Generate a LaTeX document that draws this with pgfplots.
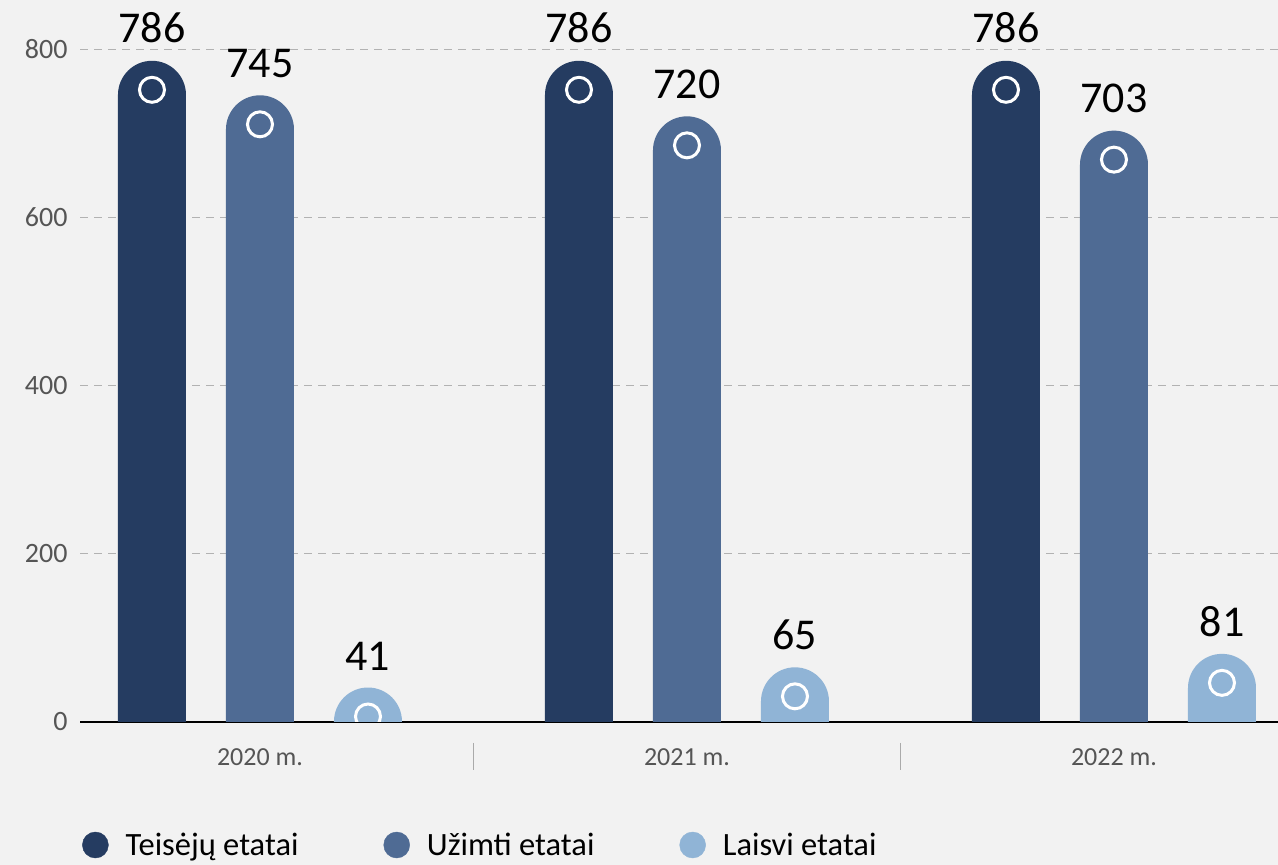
\documentclass[border=0pt]{standalone}
\usepackage{fontspec}
\setmainfont{Carlito}
\usepackage{pgfplots}
\pgfplotsset{compat=1.18}
\definecolor{cA}{HTML}{253C61}
\definecolor{cB}{HTML}{4F6B94}
\definecolor{cC}{HTML}{90B4D6}
\definecolor{bg}{HTML}{F2F2F2}
\definecolor{tickgray}{HTML}{555555}
\pgfdeclareplotmark{pill}{%
  \pgfpathmoveto{\pgfqpoint{-\pgfplotmarksize}{-1000pt}}%
  \pgfpathlineto{\pgfqpoint{-\pgfplotmarksize}{-\pgfplotmarksize}}%
  \pgfpatharc{180}{0}{\pgfplotmarksize}%
  \pgfpathlineto{\pgfqpoint{\pgfplotmarksize}{-1000pt}}%
  \pgfpathclose
  \pgfusepathqfill
  \pgfsetstrokecolor{white}%
  \pgfsetlinewidth{3pt}%
  \pgfpathcircle{\pgfqpoint{0pt}{-29pt}}{12.5pt}%
  \pgfusepathqstroke
}
\begin{document}
\begin{tikzpicture}
\fill[bg] (0,0) rectangle (1278pt,865pt);
\path[use as bounding box] (0,0) rectangle (1278pt,865pt);
\begin{axis}[
  at={(80pt,143pt)}, anchor=south west,
  width=1198pt, height=722pt, scale only axis,
  xmin=-0.4215, xmax=2.3841, ymin=0, ymax=858.3,
  clip=true, clip marker paths=true,
  axis x line=bottom, axis y line=left,
  x axis line style={-, black, line width=1.5pt},
  y axis line style={draw=none},
  /pgf/number format/assume math mode=true,
  ytick={0,200,400,600,800},
  ymajorgrids, grid style={tickgray!45, line width=1pt, dash pattern=on 8pt off 6pt},
  major tick length=0pt,
  xtick={0,1,2}, xticklabels={2020 m., 2021 m., 2022 m.},
  yticklabel style={font=\fontsize{28}{28}\selectfont, text=tickgray, xshift=-9pt},
  xticklabel style={font=\fontsize{26}{26}\selectfont, text=tickgray, yshift=-23pt},
  nodes near coords,
  every node near coord/.append style={font=\fontsize{44}{44}\selectfont, text=black, anchor=south, inner sep=0pt, yshift=16pt},
  legend columns=3,
  legend style={at={(0,0)}, anchor=west, xshift=2pt, yshift=-123pt, draw=none, fill=none, inner sep=0pt,
    font=\fontsize{32.5}{33}\selectfont,
    /tikz/every odd column/.append style={column sep=15pt},
    /tikz/every even column/.append style={column sep=83pt}},
]
\addplot[only marks, mark=pill, mark size=34pt, mark options={fill=cA, draw=none}, xshift=-108pt, forget plot]
  coordinates {(0,786) (1,786) (2,786)};
\addplot[only marks, mark=pill, mark size=34pt, mark options={fill=cB, draw=none}, forget plot]
  coordinates {(0,745) (1,720) (2,703)};
\addplot[only marks, mark=pill, mark size=34pt, mark options={fill=cC, draw=none}, xshift=108pt, forget plot]
  coordinates {(0,41) (1,65) (2,81)};
\addlegendimage{legend image code/.code={\fill[cA] (13pt,0pt) circle (13pt);}}
\addlegendentry{Teisėjų etatai}
\addlegendimage{legend image code/.code={\fill[cB] (13pt,0pt) circle (13pt);}}
\addlegendentry{Užimti etatai}
\addlegendimage{legend image code/.code={\fill[cC] (13pt,0pt) circle (13pt);}}
\addlegendentry{Laisvi etatai}
\coordinate (s1) at (axis cs:0.5,0);
\coordinate (s2) at (axis cs:1.5,0);
\end{axis}
\draw[tickgray!50, line width=1pt] ([yshift=-21pt]s1) -- ([yshift=-48pt]s1);
\draw[tickgray!50, line width=1pt] ([yshift=-21pt]s2) -- ([yshift=-48pt]s2);
\end{tikzpicture}
\end{document}
